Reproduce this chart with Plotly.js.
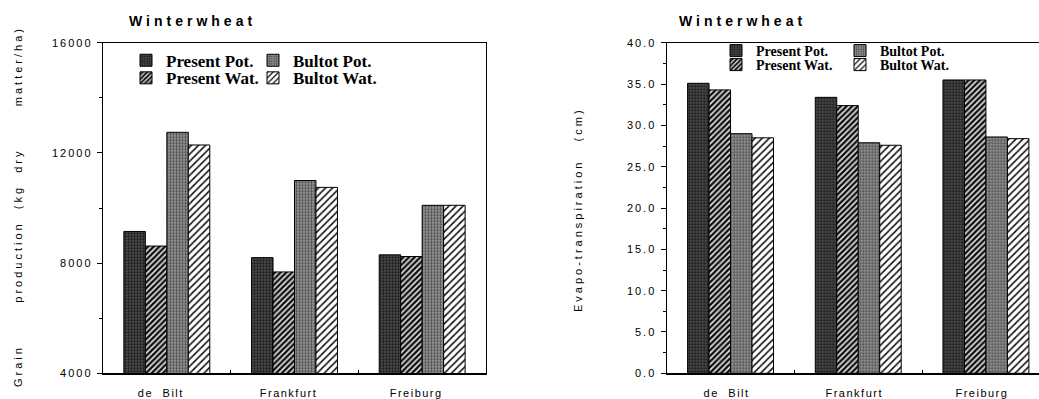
<!DOCTYPE html>
<html>
<head>
<meta charset="utf-8">
<script src="https://cdn.plot.ly/plotly-3.0.1.min.js"></script>
<style>
  html, body { margin: 0; padding: 0; background: #fff; }
  #chart { width: 1039px; height: 399px; }
  .xtick text, .x2tick text { letter-spacing: 1.5px; word-spacing: 5px; }
  .ytick text, .y2tick text { letter-spacing: 2px; }
</style>
</head>
<body>
<div id="chart"></div>
<script>
// ---- data ----
const categories = ['de Bilt', 'Frankfurt', 'Freiburg'];
const seriesNames = ['Present Pot.', 'Present Wat.', 'Bultot Pot.', 'Bultot Wat.'];

// Grain production (kg dry matter/ha)
const grainPresentPot = [9150, 8200, 8300];
const grainPresentWat = [8620, 7680, 8240];
const grainBultotPot  = [12750, 11000, 10100];
const grainBultotWat  = [12290, 10750, 10100];

// Evapo-transpiration (cm)
const etPresentPot = [35.1, 33.4, 35.5];
const etPresentWat = [34.3, 32.4, 35.5];
const etBultotPot  = [29.0, 27.9, 28.6];
const etBultotWat  = [28.5, 27.6, 28.4];

const grainRange = [4000, 16000];
const grainTickStep = 4000;
const etRange = [0, 40];
const etTickStep = 5;

const chartTitle = 'Winterwheat';
const grainTitle = 'Grain\u00a0\u00a0\u00a0\u00a0\u00a0\u00a0\u00a0production\u00a0\u00a0(kg\u00a0\u00a0dry\u00a0\u00a0\u00a0\u00a0\u00a0\u00a0\u00a0matter/ha)';
const etTitle = 'Evapo-transpiration\u00a0\u00a0\u00a0(cm)';

// ---- styles ----
const patterns = [
  {shape: '.', bgcolor: '#555555', fgcolor: '#1a1a1a', size: 3, solidity: 0.5},
  {shape: '/', bgcolor: '#e8e8e8', fgcolor: '#111111', size: 4, solidity: 0.62},
  {shape: '.', bgcolor: '#9a9a9a', fgcolor: '#4a4a4a', size: 3, solidity: 0.45},
  {shape: '/', bgcolor: '#ffffff', fgcolor: '#111111', size: 5, solidity: 0.32}
];
const leftLegends = ['legend', 'legend2', 'legend', 'legend2'];
const rightLegends = ['legend3', 'legend4', 'legend3', 'legend4'];

const grainData = [grainPresentPot, grainPresentWat, grainBultotPot, grainBultotWat];
const etData = [etPresentPot, etPresentWat, etBultotPot, etBultotWat];

const traces = [];
grainData.forEach((vals, i) => {
  traces.push({
    type: 'bar', x: categories, y: vals, name: seriesNames[i],
    xaxis: 'x', yaxis: 'y', legend: leftLegends[i],
    marker: {color: patterns[i].bgcolor, pattern: patterns[i], line: {color: '#000', width: 1}}
  });
});
etData.forEach((vals, i) => {
  traces.push({
    type: 'bar', x: categories, y: vals, name: seriesNames[i],
    xaxis: 'x2', yaxis: 'y2', legend: rightLegends[i],
    marker: {color: patterns[i].bgcolor, pattern: patterns[i], line: {color: '#000', width: 1}}
  });
});

const W = 1039, H = 399;
const tickFont = {family: 'Liberation Sans, Arial, sans-serif', size: 11, color: '#000'};
const legFontL = {family: 'Liberation Serif, Times New Roman, serif', size: 17, color: '#000', weight: 'bold'};
const legFontR = {family: 'Liberation Serif, Times New Roman, serif', size: 14, color: '#000', weight: 'bold'};

function legendAt(px, py, font, ew) {
  return {
    orientation: 'h', x: px / W, xanchor: 'left', y: 1 - py / H, yanchor: 'middle',
    bgcolor: 'rgba(0,0,0,0)', borderwidth: 0, font: font,
    entrywidth: ew, entrywidthmode: 'pixels', itemclick: false, itemdoubleclick: false
  };
}

const yDom = [1 - 373.3 / H, 1 - 42.8 / H];

const xCommon = {
  type: 'category', showline: true, linecolor: '#000', linewidth: 1.2, mirror: true,
  ticks: 'inside', ticklen: 3, tickcolor: '#000', tickson: 'boundaries',
  tickfont: tickFont, showgrid: false, zeroline: false, fixedrange: true
};

const layout = {
  width: W, height: H,
  margin: {l: 0, r: 0, t: 0, b: 0},
  paper_bgcolor: '#fff', plot_bgcolor: '#fff',
  barmode: 'group', bargap: 0.327, bargroupgap: 0,
  showlegend: true,
  xaxis: Object.assign({}, xCommon, {domain: [103 / W, 486 / W], anchor: 'y', range: [-0.5, 2.5], ticklabelshift: -6, ticklabelstandoff: 9}),
  yaxis: {
    domain: yDom, anchor: 'x', range: grainRange, tickmode: 'linear', tick0: grainRange[0], dtick: grainTickStep,
    tickformat: 'd',
    showline: true, linecolor: '#000', linewidth: 1.2, mirror: true,
    ticks: 'outside', ticklen: 5, tickcolor: '#000', tickfont: tickFont,
    minor: {tickmode: 'linear', tick0: grainRange[0], dtick: grainTickStep / 2, ticks: 'outside', ticklen: 3, tickcolor: '#000', tickwidth: 1},
    showgrid: false, zeroline: false, ticklabelstandoff: 2, fixedrange: true
  },
  xaxis2: Object.assign({}, xCommon, {domain: [666.7 / W, 1], anchor: 'y2', range: [-0.5, 2.4156], ticklabelshift: -4, ticklabelstandoff: 9}),
  yaxis2: {
    domain: yDom, anchor: 'x2', range: etRange, tickmode: 'linear', tick0: 0, dtick: etTickStep, tickformat: '.1f',
    showline: true, linecolor: '#000', linewidth: 1.2, mirror: false,
    ticks: 'outside', ticklen: 5, tickcolor: '#000', tickfont: tickFont,
    minor: {tickmode: 'linear', tick0: 0, dtick: etTickStep / 2, ticks: 'outside', ticklen: 3, tickcolor: '#000', tickwidth: 1},
    showgrid: false, zeroline: false, ticklabelstandoff: 2, fixedrange: true
  },
  legend:  legendAt(126, 60.7, legFontL, 82),
  legend2: legendAt(126, 78.3, legFontL, 82),
  legend3: legendAt(716, 51, legFontR, 79),
  legend4: legendAt(716, 65, legFontR, 79),
  annotations: [
    {text: '<span style="letter-spacing:4px">' + chartTitle + '</span>', xref: 'paper', yref: 'paper',
     x: 192.5 / W, y: 1 - 21 / H, xanchor: 'center', yanchor: 'middle', showarrow: false,
     font: {family: 'Liberation Sans, Arial, sans-serif', size: 14, color: '#000', weight: 'bold'}},
    {text: '<span style="letter-spacing:4px">' + chartTitle + '</span>', xref: 'paper', yref: 'paper',
     x: 742 / W, y: 1 - 21 / H, xanchor: 'center', yanchor: 'middle', showarrow: false,
     font: {family: 'Liberation Sans, Arial, sans-serif', size: 14, color: '#000', weight: 'bold'}},
    {text: '<span style="letter-spacing:3px">' + grainTitle + '</span>', xref: 'paper', yref: 'paper',
     x: 18 / W, y: 1 - 207 / H, xanchor: 'center', yanchor: 'middle', textangle: -90, showarrow: false,
     font: {family: 'Liberation Sans, Arial, sans-serif', size: 11, color: '#000'}},
    {text: '<span style="letter-spacing:3px">' + etTitle + '</span>', xref: 'paper', yref: 'paper',
     x: 578 / W, y: 1 - 210 / H, xanchor: 'center', yanchor: 'middle', textangle: -90, showarrow: false,
     font: {family: 'Liberation Sans, Arial, sans-serif', size: 11, color: '#000'}}
  ]
};

Plotly.newPlot('chart', traces, layout, {displayModeBar: false, staticPlot: true});
</script>
</body>
</html>
